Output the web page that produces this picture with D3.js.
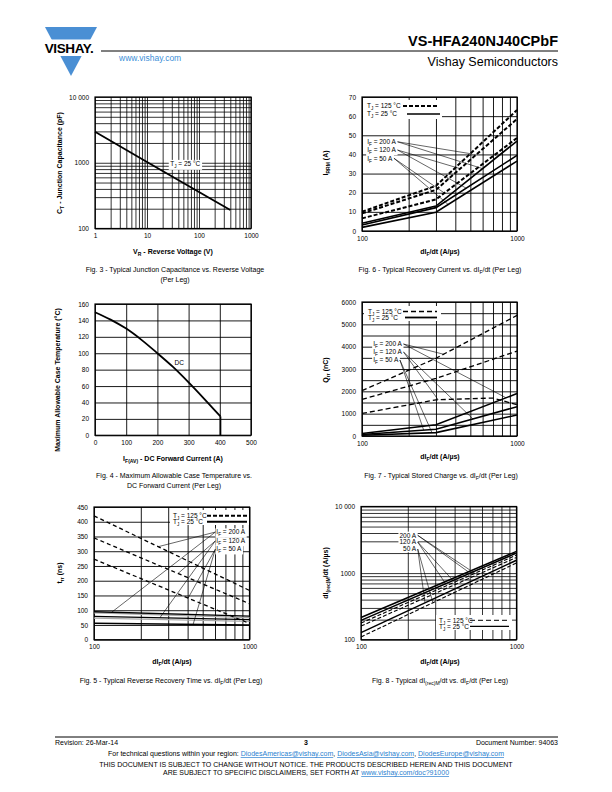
<!DOCTYPE html>
<html><head><meta charset="utf-8">
<script src="https://cdn.jsdelivr.net/npm/d3@7"></script>
<style>
body{margin:0;background:#fff}
svg{display:block}
text{font-family:"Liberation Sans",Arial,Helvetica,sans-serif}
</style>
</head><body>
<svg id="c" width="612" height="792"></svg>
<script>
// ================= DATA =================
// Fig. 3 - Junction capacitance vs reverse voltage
const f3Voltage = [1, 10, 100, 400];
const f3Capacitance = [2970, 1030, 360, 191];
const f3XTicks = [1, 10, 100, 1000];
const f3XLabels = ["1", "10", "100", "1000"];
const f3YTicks = [100, 1000, 10000];
const f3YLabels = ["100", "1000", "10 000"];

// Fig. 6 - IRRM vs dIF/dt
const f6DiDt = [100, 300, 1000];
const f6Irrm125_200 = [10.1, 23.6, 63.2];
const f6Irrm125_120 = [9.2, 21.5, 58.5];
const f6Irrm125_50 = [6.6, 16.5, 48.6];
const f6Irrm25_200 = [4.0, 13.0, 47.0];
const f6Irrm25_120 = [3.1, 12.2, 39.5];
const f6Irrm25_50 = [1.9, 9.8, 36.5];
const f6XTicks = [100, 1000];
const f6XLabels = ["100", "1000"];
const f6YTicks = [0, 10, 20, 30, 40, 50, 60, 70];

// Fig. 4 - Max case temperature vs DC forward current
const f4Current = [0, 50, 100, 150, 200, 250, 300, 350, 402];
const f4Temp = [150, 141, 130, 116, 100, 83.3, 64.5, 44.5, 23];
const f4DropCurrent = [402, 402];
const f4DropTemp = [23, 0];
const f4XTicks = [0, 100, 200, 300, 400, 500];
const f4YTicks = [0, 20, 40, 60, 80, 100, 120, 140, 160];

// Fig. 7 - Qrr vs dIF/dt
const f7DiDt = [100, 300, 1000];
const f7DiDt50 = [100, 300, 700, 1000];
const f7Qrr125_200 = [2030, 3480, 5400];
const f7Qrr125_120 = [1640, 2580, 3800];
const f7Qrr125_50 = [1010, 1620, 1700, 1400];
const f7Qrr25_200 = [110, 500, 1900];
const f7Qrr25_120 = [70, 300, 1310];
const f7Qrr25_50 = [35, 150, 940];
const f7XTicks = [100, 1000];
const f7XLabels = ["100", "1000"];
const f7YTicks = [0, 1000, 2000, 3000, 4000, 5000, 6000];

// Fig. 5 - trr vs dIF/dt
const f5DiDt = [100, 1000];
const f5Trr125_200 = [420, 167];
const f5Trr125_120 = [345, 122];
const f5Trr125_50 = [273, 55];
const f5Trr25_200 = [95, 80];
const f5Trr25_120 = [79, 68];
const f5Trr25_50 = [56, 50];
const f5TrrGrayA = [91, 75];
const f5TrrGrayB = [73, 62];
const f5XTicks = [100, 1000];
const f5XLabels = ["100", "1000"];
const f5YTicks = [0, 50, 100, 150, 200, 250, 300, 350, 400, 450];

// Fig. 8 - dI(rec)M/dt vs dIF/dt
const f8DiDt = [100, 1000];
const f8Rate25_200 = [215, 2120];
const f8Rate25_120 = [195, 2000];
const f8Rate125_200 = [178, 1860];
const f8Rate125_120 = [160, 1720];
const f8Rate25_50 = [128, 1560];
const f8Rate125_50 = [110, 1420];
const f8XTicks = [100, 1000];
const f8XLabels = ["100", "1000"];
const f8YTicks = [100, 1000, 10000];
const f8YLabels = ["100", "1000", "10 000"];

const ifLabels = ["200 A", "120 A", "50 A"];

// ================= HELPERS =================
const FONT = '"Liberation Sans", Arial, Helvetica, sans-serif';
const svg = d3.select("#c");

function logGrid(lo, hi) {
  const out = [];
  for (let p = Math.floor(Math.log10(lo)); Math.pow(10, p) <= hi; p++) {
    for (let k = 1; k < 10; k++) {
      const v = k * Math.pow(10, p);
      if (v >= lo - 1e-9 && v <= hi + 1e-9) out.push(v);
    }
  }
  return out;
}

function rich(sel, parts, fs) {
  let shift = 0;
  parts.forEach(p => {
    const t = typeof p === "string" ? p : p[0];
    const sub = typeof p !== "string";
    const sp = sel.append("tspan").text(t);
    if (sub) {
      const s = fs * 0.3;
      sp.attr("dy", s - shift).attr("font-size", fs * 0.72);
      shift = s;
    } else if (shift) {
      sp.attr("dy", -shift);
      shift = 0;
    }
  });
  return sel;
}

function txt(layer, x, y, parts, fs, opts = {}) {
  const t = layer.append("text").attr("x", x).attr("y", y)
    .attr("font-size", fs).attr("fill", opts.fill || "#000")
    .attr("font-weight", opts.bold ? "bold" : null)
    .attr("text-anchor", opts.anchor || "start");
  if (opts.rotate) t.attr("transform", `rotate(-90,${x},${y})`);
  rich(t, parts, fs);
  return t;
}

function bgRect(layer, node, padX, padY) {
  const b = node.getBBox();
  layer.append("rect").attr("x", b.x - padX).attr("y", b.y - padY)
    .attr("width", b.width + 2 * padX).attr("height", b.height + 2 * padY)
    .attr("fill", "#fff");
}

function panel(cfg) {
  const g = svg.append("g");
  const x = cfg.x, y = cfg.y;
  const [xl, xr] = x.range(), [yb, yt] = y.range();
  const grid = g.append("g");
  const gx = grid.append("g").attr("transform", `translate(0,${yb})`)
    .call(d3.axisBottom(x).tickValues(cfg.xGrid).tickSize(-(yb - yt)).tickFormat(""));
  const gy = grid.append("g").attr("transform", `translate(${xl},0)`)
    .call(d3.axisLeft(y).tickValues(cfg.yGrid).tickSize(-(xr - xl)).tickFormat(""));
  [gx, gy].forEach(a => {
    a.select(".domain").remove();
    a.selectAll("line").attr("stroke", "#000").attr("stroke-width", cfg.gw || 0.9);
  });
  g.append("rect").attr("x", xl).attr("y", yt).attr("width", xr - xl).attr("height", yb - yt)
    .attr("fill", "none").attr("stroke", "#000").attr("stroke-width", 1.2);
  const lx = g.append("g").attr("transform", `translate(0,${yb})`)
    .call(d3.axisBottom(x).tickValues(cfg.xTicks).tickFormat((d, i) => cfg.xLabels[i]).tickSize(0).tickPadding(5));
  const ly = g.append("g").attr("transform", `translate(${xl},0)`)
    .call(d3.axisLeft(y).tickValues(cfg.yTicks).tickFormat((d, i) => cfg.yLabels[i]).tickSize(0).tickPadding(6));
  [lx, ly].forEach(a => {
    a.select(".domain").remove();
    a.attr("font-family", FONT).attr("font-size", 6.5);
    a.selectAll("text").attr("fill", "#000");
  });
  const data = g.append("g");
  const bg = g.append("g");
  const lab = g.append("g");
  return { g, data, bg, lab, x, y };
}

function series(P, xs, ys, style) {
  P.data.append("path").datum(xs.map((v, i) => [v, ys[i]]))
    .attr("d", d3.line().curve(style.curve || d3.curveLinear).x(d => P.x(d[0])).y(d => P.y(d[1])))
    .attr("fill", "none").attr("stroke", style.color || "#000")
    .attr("stroke-width", style.w || 1.5)
    .attr("stroke-dasharray", style.dash || null);
}

function interp(xs, ys, xv, logY) {
  let i = 0;
  while (i < xs.length - 2 && xv > xs[i + 1]) i++;
  const t = (Math.log10(xv) - Math.log10(xs[i])) / (Math.log10(xs[i + 1]) - Math.log10(xs[i]));
  if (logY) return Math.pow(10, Math.log10(ys[i]) + t * (Math.log10(ys[i + 1]) - Math.log10(ys[i])));
  return ys[i] + t * (ys[i + 1] - ys[i]);
}

function leader(P, x0, y0, xv, yv) {
  P.bg.append("line").attr("x1", x0).attr("y1", y0).attr("x2", P.x(xv)).attr("y2", P.y(yv))
    .attr("stroke", "#000").attr("stroke-width", 0.6);
}

function legend(P, x, y, lineX1, lineX2, dash, w, label) {
  const g = P.lab.append("g");
  txt(g, x, y + 2.3, ["T", ["J"], label], 6.5);
  g.append("line").attr("x1", lineX1).attr("x2", lineX2).attr("y1", y).attr("y2", y)
    .attr("stroke", "#000").attr("stroke-width", w).attr("stroke-dasharray", dash);
  return g;
}

// ================= HEADER =================
svg.append("polygon").attr("points", "45,27 97,27 71,76").attr("fill", "#4a8fd4");
svg.append("rect").attr("x", 38).attr("y", 39.5).attr("width", 62).attr("height", 16.5).attr("fill", "#fff");
svg.append("text").attr("x", 69).attr("y", 53).attr("text-anchor", "middle")
  .attr("font-size", 13.5).attr("font-weight", "bold").attr("letter-spacing", -0.4).text("VISHAY.");
svg.append("line").attr("x1", 101).attr("x2", 558).attr("y1", 51).attr("y2", 51).attr("stroke", "#000").attr("stroke-width", 1);
svg.append("text").attr("x", 558).attr("y", 46).attr("text-anchor", "end").attr("font-size", 14.5).attr("font-weight", "bold").text("VS-HFA240NJ40CPbF");
svg.append("text").attr("x", 119).attr("y", 61).attr("font-size", 8.5).attr("fill", "#3d8fd8").text("www.vishay.com");
svg.append("text").attr("x", 558).attr("y", 66).attr("text-anchor", "end").attr("font-size", 12.5).text("Vishay Semiconductors");

// ================= FIG 3 =================
{
  const P = panel({
    x: d3.scaleLog().domain([1, 1000]).range([95, 251]),
    y: d3.scaleLog().domain([100, 10000]).range([228.5, 97]),
    xGrid: logGrid(1, 1000), yGrid: logGrid(100, 10000),
    xTicks: f3XTicks, xLabels: f3XLabels, yTicks: f3YTicks, yLabels: f3YLabels, gw: 0.8
  });
  series(P, f3Voltage, f3Capacitance, { w: 1.8 });
  const t = txt(P.lab, P.x(28), P.y(880), ["T", ["J"], " = 25 °C"], 6.5);
  bgRect(P.bg, t.node(), 1.5, 0.5);
  txt(svg, 173, 254, ["V", ["R"], " - Reverse Voltage (V)"], 7, { bold: true, anchor: "middle" });
  txt(svg, 62, 163, ["C", ["T"], " - Junction Capacitance (pF)"], 7, { bold: true, anchor: "middle", rotate: true });
  txt(svg, 175, 272, ["Fig. 3 - Typical Junction Capacitance vs. Reverse Voltage"], 7, { anchor: "middle" });
  txt(svg, 175, 282, ["(Per Leg)"], 7, { anchor: "middle" });
}

// ================= FIG 6 =================
{
  const P = panel({
    x: d3.scaleLog().domain([100, 1000]).range([362, 517]),
    y: d3.scaleLinear().domain([0, 70]).range([231, 97]),
    xGrid: logGrid(100, 1000), yGrid: f6YTicks,
    xTicks: f6XTicks, xLabels: f6XLabels, yTicks: f6YTicks, yLabels: f6YTicks.map(String)
  });
  const s125 = [f6Irrm125_200, f6Irrm125_120, f6Irrm125_50];
  const s25 = [f6Irrm25_200, f6Irrm25_120, f6Irrm25_50];
  s125.forEach(s => series(P, f6DiDt, s, { w: 2, dash: "4,2" }));
  s25.forEach(s => series(P, f6DiDt, s, { w: 1.6 }));
  legend(P, 367, 106, 403, 437, "4,2", 2, " = 125 °C");
  legend(P, 367, 114, 407, 440, null, 1.6, " = 25 °C");
  P.bg.append("rect").attr("x", 363).attr("y", 100).attr("width", 79).attr("height", 19).attr("fill", "#fff");
  const labelY = [46.6, 42.3, 38];
  const targets = [[[0, 500], [3, 600]], [[1, 430], [4, 470]], [[2, 340], [5, 360]]];
  const all = [...s125, ...s25];
  labelY.forEach((ly, i) => {
    const t = txt(P.lab, P.x(108), P.y(ly) + 2.3, ["I", ["F"], " = " + ifLabels[i]], 6.5);
    bgRect(P.bg, t.node(), 1, 0);
    const b = t.node().getBBox();
    targets[i].forEach(([si, xv]) => leader(P, b.x + b.width + 1, P.y(ly), xv, interp(f6DiDt, all[si], xv, false)));
  });
  txt(svg, 440, 254, ["dI", ["F"], "/dt (A/µs)"], 7, { bold: true, anchor: "middle" });
  txt(svg, 328, 163, ["I", ["RRM"], " (A)"], 7, { bold: true, anchor: "middle", rotate: true });
  txt(svg, 440, 272, ["Fig. 6 - Typical Recovery Current vs. dI", ["F"], "/dt (Per Leg)"], 7, { anchor: "middle" });
}

// ================= FIG 4 =================
{
  const P = panel({
    x: d3.scaleLinear().domain([0, 500]).range([95, 251]),
    y: d3.scaleLinear().domain([0, 160]).range([435.3, 304]),
    xGrid: f4XTicks, yGrid: f4YTicks,
    xTicks: f4XTicks, xLabels: f4XTicks.map(String), yTicks: f4YTicks, yLabels: f4YTicks.map(String)
  });
  series(P, f4Current, f4Temp, { w: 1.8, curve: d3.curveMonotoneX });
  series(P, f4DropCurrent, f4DropTemp, { w: 1.8 });
  txt(P.lab, P.x(255), P.y(86), ["DC"], 6.5);
  txt(svg, 173, 461, ["I", ["F(AV)"], " - DC Forward Current (A)"], 7, { bold: true, anchor: "middle" });
  txt(svg, 60, 380, ["Maximum Allowable Case Temperature (°C)"], 7, { bold: true, anchor: "middle", rotate: true });
  txt(svg, 174, 478, ["Fig. 4 - Maximum Allowable Case Temperature vs."], 7, { anchor: "middle" });
  txt(svg, 174, 488, ["DC Forward Current (Per Leg)"], 7, { anchor: "middle" });
}

// ================= FIG 7 =================
{
  const P = panel({
    x: d3.scaleLog().domain([100, 1000]).range([362, 517]),
    y: d3.scaleLinear().domain([0, 6000]).range([436, 302]),
    xGrid: logGrid(100, 1000), yGrid: d3.range(0, 6001, 500),
    xTicks: f7XTicks, xLabels: f7XLabels, yTicks: f7YTicks, yLabels: f7YTicks.map(String)
  });
  series(P, f7DiDt, f7Qrr125_200, { w: 1.3, dash: "5,3" });
  series(P, f7DiDt, f7Qrr125_120, { w: 1.3, dash: "5,3" });
  series(P, f7DiDt50, f7Qrr125_50, { w: 1.3, dash: "5,3" });
  [f7Qrr25_200, f7Qrr25_120, f7Qrr25_50].forEach(s => series(P, f7DiDt, s, { w: 1.6 }));
  legend(P, 368, 311.5, 403, 437, "5,3", 1.3, " = 125 °C");
  legend(P, 368, 317.5, 405, 437, null, 1.8, " = 25 °C");
  P.bg.append("rect").attr("x", 364).attr("y", 306).attr("width", 77).attr("height", 15).attr("fill", "#fff");
  const labelY = [4119, 3761, 3403];
  const tg = [
    [[f7DiDt, f7Qrr125_200, 336], [f7DiDt, f7Qrr25_200, 850]],
    [[f7DiDt50, f7Qrr125_50, 310], [f7DiDt, f7Qrr25_120, 520]],
    [[f7DiDt, f7Qrr25_50, 283], [f7DiDt, f7Qrr25_120, 250]]
  ];
  labelY.forEach((ly, i) => {
    const t = txt(P.lab, P.x(118), P.y(ly) + 2.3, ["I", ["F"], " = " + ifLabels[i]], 6.5);
    bgRect(P.bg, t.node(), 1, 0);
    const b = t.node().getBBox();
    tg[i].forEach(([xs, ys, xv]) => leader(P, b.x + b.width + 1, P.y(ly), xv, interp(xs, ys, xv, false)));
  });
  txt(svg, 440, 459, ["dI", ["F"], "/dt (A/µs)"], 7, { bold: true, anchor: "middle" });
  txt(svg, 328, 370, ["Q", ["rr"], " (nC)"], 7, { bold: true, anchor: "middle", rotate: true });
  txt(svg, 441, 478, ["Fig. 7 - Typical Stored Charge vs. dI", ["F"], "/dt (Per Leg)"], 7, { anchor: "middle" });
}

// ================= FIG 5 =================
{
  const P = panel({
    x: d3.scaleLog().domain([100, 1000]).range([94, 249.5]),
    y: d3.scaleLinear().domain([0, 450]).range([639.7, 507]),
    xGrid: logGrid(100, 1000), yGrid: f5YTicks,
    xTicks: f5XTicks, xLabels: f5XLabels, yTicks: f5YTicks, yLabels: f5YTicks.map(String)
  });
  series(P, f5DiDt, f5TrrGrayA, { w: 1.3, color: "#aaa" });
  series(P, f5DiDt, f5TrrGrayB, { w: 1.3, color: "#aaa" });
  const s125 = [f5Trr125_200, f5Trr125_120, f5Trr125_50];
  const s25 = [f5Trr25_200, f5Trr25_120, f5Trr25_50];
  s125.forEach(s => series(P, f5DiDt, s, { w: 1.3, dash: "4,3" }));
  s25.forEach(s => series(P, f5DiDt, s, { w: 1.4 }));
  legend(P, 173, 515.7, 207, 247, "4,2", 2, " = 125 °C");
  legend(P, 173, 521.7, 207, 247, null, 2, " = 25 °C");
  P.bg.append("rect").attr("x", 170).attr("y", 510).attr("width", 79).attr("height", 15).attr("fill", "#fff");
  const labelY = [365, 335, 307];
  const tg = [[[s125[0], 259], [s25[0], 130]], [[s125[1], 347], [s25[1], 265]], [[s125[2], 403], [s25[2], 434]]];
  labelY.forEach((ly, i) => {
    const t = txt(P.lab, P.x(612), P.y(ly) + 2.3, ["I", ["F"], " = " + ifLabels[i]], 6.5);
    bgRect(P.bg, t.node(), 1, 0);
    const b = t.node().getBBox();
    tg[i].forEach(([ys, xv]) => leader(P, b.x - 1, P.y(ly), xv, interp(f5DiDt, ys, xv, false)));
  });
  txt(svg, 172, 664, ["dI", ["F"], "/dt (A/µs)"], 7, { bold: true, anchor: "middle" });
  txt(svg, 62, 573, ["t", ["rr"], " (ns)"], 7, { bold: true, anchor: "middle", rotate: true });
  txt(svg, 171, 683, ["Fig. 5 - Typical Reverse Recovery Time vs. dI", ["F"], "/dt (Per Leg)"], 7, { anchor: "middle" });
}

// ================= FIG 8 =================
{
  const P = panel({
    x: d3.scaleLog().domain([100, 1000]).range([361, 516.5]),
    y: d3.scaleLog().domain([100, 10000]).range([639.7, 506.5]),
    xGrid: logGrid(100, 1000), yGrid: logGrid(100, 10000),
    xTicks: f8XTicks, xLabels: f8XLabels, yTicks: f8YTicks, yLabels: f8YLabels, gw: 0.8
  });
  const sol = [f8Rate25_200, f8Rate25_120, f8Rate25_50];
  const das = [f8Rate125_200, f8Rate125_120, f8Rate125_50];
  das.forEach(s => series(P, f8DiDt, s, { w: 1.1, dash: "4,2" }));
  sol.forEach(s => series(P, f8DiDt, s, { w: 1.5 }));
  legend(P, 439, 620.3, 470, 509, "5,3", 1, " = 125 °C");
  legend(P, 439, 626.3, 470, 509, null, 1.2, " = 25 °C");
  P.bg.append("rect").attr("x", 436).attr("y", 615).attr("width", 76).attr("height", 15).attr("fill", "#fff");
  const labelY = [3690, 2930, 2300];
  const tg = [[[sol[0], 490], [das[0], 540]], [[sol[1], 350], [das[1], 410]], [[sol[2], 258], [das[2], 290]]];
  labelY.forEach((ly, i) => {
    const t = txt(P.lab, P.x(226), P.y(ly) + 2.3, [ifLabels[i]], 6.5, { anchor: "end" });
    bgRect(P.bg, t.node(), 1, 0);
    const b = t.node().getBBox();
    tg[i].forEach(([ys, xv]) => leader(P, b.x + b.width + 1, P.y(ly), xv, interp(f8DiDt, ys, xv, true)));
  });
  txt(svg, 440, 664, ["dI", ["F"], "/dt (A/µs)"], 7, { bold: true, anchor: "middle" });
  txt(svg, 328, 573, ["dI", ["(rec)M"], "/dt (A/µs)"], 7, { bold: true, anchor: "middle", rotate: true });
  txt(svg, 440, 683, ["Fig. 8 - Typical dI", ["(rec)M"], "/dt vs. dI", ["F"], "/dt (Per Leg)"], 7, { anchor: "middle" });
}

// ================= FOOTER =================
svg.append("line").attr("x1", 55).attr("x2", 558).attr("y1", 737).attr("y2", 737).attr("stroke", "#000").attr("stroke-width", 1);
txt(svg, 55, 745, ["Revision: 26-Mar-14"], 7);
txt(svg, 306, 745, ["3"], 7, { bold: true, anchor: "middle" });
txt(svg, 558, 745, ["Document Number: 94063"], 7, { anchor: "end" });
{
  const t = svg.append("text").attr("x", 306).attr("y", 756).attr("font-size", 7).attr("text-anchor", "middle");
  t.append("tspan").text("For technical questions within your region: ");
  t.append("tspan").attr("fill", "#2a7fd0").attr("text-decoration", "underline").text("DiodesAmericas@vishay.com");
  t.append("tspan").text(", ");
  t.append("tspan").attr("fill", "#2a7fd0").attr("text-decoration", "underline").text("DiodesAsia@vishay.com");
  t.append("tspan").text(", ");
  t.append("tspan").attr("fill", "#2a7fd0").attr("text-decoration", "underline").text("DiodesEurope@vishay.com");
}
txt(svg, 306, 767, ["THIS DOCUMENT IS SUBJECT TO CHANGE WITHOUT NOTICE. THE PRODUCTS DESCRIBED HEREIN AND THIS DOCUMENT"], 7, { anchor: "middle" });
{
  const t = svg.append("text").attr("x", 306).attr("y", 775).attr("font-size", 7).attr("text-anchor", "middle");
  t.append("tspan").text("ARE SUBJECT TO SPECIFIC DISCLAIMERS, SET FORTH AT ");
  t.append("tspan").attr("fill", "#2a7fd0").attr("text-decoration", "underline").text("www.vishay.com/doc?91000");
}
</script>
</body></html>
